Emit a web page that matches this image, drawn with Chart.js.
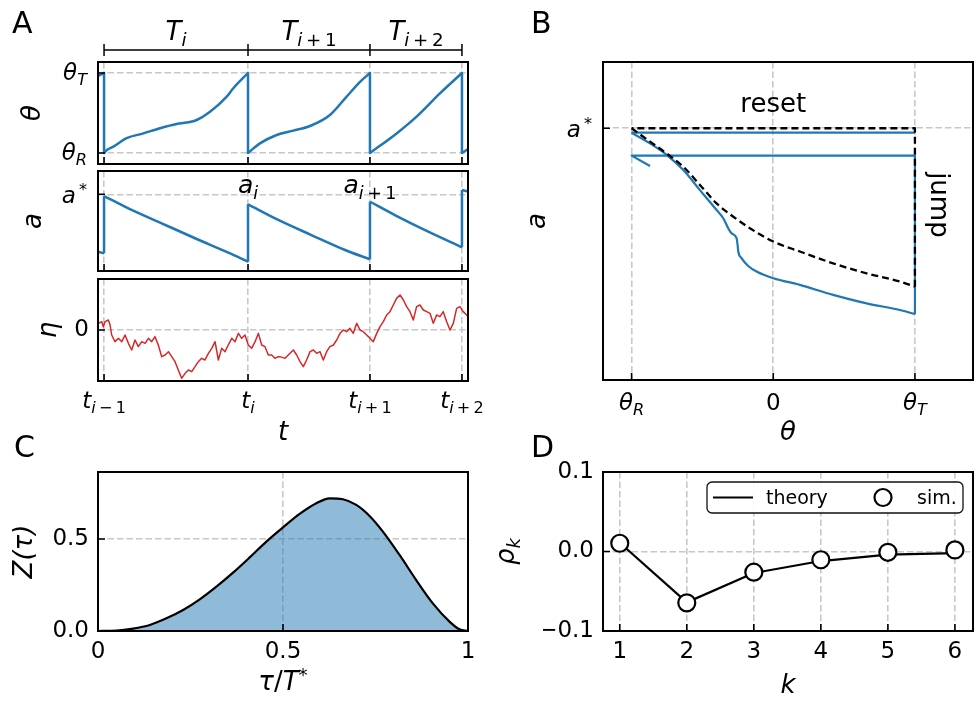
<!DOCTYPE html>
<html><head><meta charset="utf-8">
<script src="https://cdn.jsdelivr.net/npm/chart.js@4"></script>
<style>
html,body{margin:0;padding:0;background:#fff;}
#wrap{position:relative;width:979px;height:702px;overflow:hidden;background:#fff;}
canvas{position:absolute;left:0;top:0;}
</style></head><body><div id="wrap">
<canvas id="cTheta" width="979" height="702"></canvas>
<canvas id="cA" width="979" height="702"></canvas>
<canvas id="cEta" width="979" height="702"></canvas>
<canvas id="cB" width="979" height="702"></canvas>
<canvas id="cC" width="979" height="702"></canvas>
<canvas id="cD" width="979" height="702"></canvas>
</div>
<script>
// ================= DATA =================
// Panel A: time ticks (t_{i-1}, t_i, t_{i+1}, t_{i+2}) and their subscripts
const tTicks = [0, 1.0, 1.847, 2.486];
const tTickSubs = ['i-1', 'i', 'i+1', 'i+2'];
const periodSubs = ['i', 'i+1', 'i+2'];
const thetaR = -1, thetaT = 1, aStar = 1;

// Panel A, theta trajectory (one array pair per inter-spike segment)
const thT0 = [-0.042, 0];
const thV0 = [0.93, 1.0];
const thT1 = [0, 0.019, 0.065, 0.157, 0.273, 0.389, 0.505, 0.574, 0.644, 0.736, 0.852, 0.898, 1.0];
const thV1 = [-1.0, -0.925, -0.84, -0.63, -0.51, -0.38, -0.275, -0.24, -0.175, 0.03, 0.41, 0.62, 1.0];
const thT2 = [1.0, 1.083, 1.199, 1.315, 1.431, 1.569, 1.685, 1.778, 1.847];
const thV2 = [-1.0, -0.76, -0.55, -0.44, -0.325, -0.05, 0.41, 0.78, 1.0];
const thT3 = [1.847, 2.032, 2.171, 2.333, 2.486];
const thV3 = [-1.0, -0.51, -0.09, 0.49, 1.0];
const thT4 = [2.486, 2.528];
const thV4 = [-1.0, -0.9];

// Panel A, adaptation a(t)
const aT0 = [-0.042, 0];
const aV0 = [0.574, 0.562];
const aT1 = [0, 0.169, 0.40, 0.632, 0.863, 1.0];
const aV1 = [0.987, 0.896, 0.785, 0.674, 0.567, 0.50];
const aT2 = [1.0, 1.21, 1.44, 1.674, 1.847];
const aV2 = [0.926, 0.81, 0.698, 0.587, 0.518];
const aT3 = [1.847, 2.02, 2.252, 2.486];
const aV3 = [0.945, 0.846, 0.723, 0.607];
const aT4 = [2.486, 2.528];
const aV4 = [1.032, 1.02];

// Panel A, noise eta(t)
const etaT = [-0.039,-0.016,-0.005,0.007,0.030,0.042,0.053,0.076,0.100,0.123,0.146,0.169,0.192,0.215,0.238,0.262,0.285,0.308,0.331,0.354,0.377,0.400,0.424,0.447,0.470,0.493,0.516,0.539,0.563,0.586,0.609,0.632,0.655,0.678,0.701,0.725,0.748,0.771,0.794,0.817,0.840,0.863,0.887,0.910,0.933,0.956,0.979,1.002,1.025,1.049,1.072,1.095,1.118,1.141,1.164,1.187,1.211,
  1.222,1.257,1.292,1.315,1.338,1.361,1.384,1.407,1.431,1.454,1.477,1.5,1.523,1.546,1.569,1.593,1.616,1.639,1.662,1.685,1.708,1.731,1.755,1.778,1.801,1.824,1.847,1.870,1.894,1.917,1.940,1.963,1.986,2.009,2.032,2.056,2.079,2.102,2.125,2.148,2.171,2.194,2.218,2.241,2.264,2.287,2.310,2.333,2.356,2.380,2.403,2.426,2.449,2.472,2.495,2.519,2.528];
const etaV = [0.33,0.417,0.167,0.417,0.5,0.25,-0.25,-0.583,-0.417,-0.583,-0.25,-0.667,-1.0,-0.5,-0.833,-0.583,-0.667,-0.417,-0.583,-0.333,-0.75,-1.333,-1.25,-1.083,-1.333,-1.583,-2.0,-2.417,-2.167,-2.0,-2.083,-1.833,-1.583,-1.417,-1.5,-1.167,-0.917,-0.583,-1.5,-0.917,-1.083,-0.75,-0.417,-0.583,-0.167,-0.417,-0.25,-0.75,-0.917,-0.583,-0.167,-0.75,-0.833,-1.25,-1.25,-1.417,-1.333,
  -1.333,-1.417,-1.167,-1.0,-1.25,-1.583,-1.833,-1.5,-1.083,-1.0,-1.167,-1.083,-1.5,-1.083,-0.833,-0.75,-0.5,-0.167,0,-0.083,0.083,-0.167,0.333,0,-0.083,-0.25,-0.417,-0.583,-0.167,0.167,0.417,0.75,0.917,1.25,1.583,1.75,1.5,1.167,0.917,0.5,1.167,1.25,1.0,0.917,0.833,0.333,0.75,0.667,0.917,0.417,0,0.333,1.083,1.167,0.917,0.75,0.67];

// Panel B: phase plane (theta, a)
const bPreTheta = [1, -1];
const bPreA = [0.988, 0.988];
const bDescTheta = [-1, -0.870, -0.753, -0.635, -0.518, -0.400, -0.353, -0.318, -0.294, -0.259, -0.252, -0.247, -0.224, -0.177, -0.118, 0.0, 0.188, 0.423, 0.659, 0.894, 1.0];
const bDescA = [0.988, 0.959, 0.928, 0.887, 0.833, 0.779, 0.757, 0.730, 0.716, 0.703, 0.685, 0.667, 0.649, 0.628, 0.613, 0.595, 0.577, 0.550, 0.527, 0.509, 0.498];
const bPostTheta = [1, 1, -1, -0.87];
const bPostA = [0.498, 0.926, 0.926, 0.898];
const bLimTheta = [-1, -0.870, -0.753, -0.635, -0.518, -0.400, -0.282, -0.165, 0.0, 0.188, 0.423, 0.659, 0.894, 1.0];
const bLimA = [1.0, 0.964, 0.932, 0.896, 0.847, 0.797, 0.761, 0.730, 0.694, 0.667, 0.635, 0.608, 0.586, 0.572];
const bLimCloseTheta = [1, 1, -1];
const bLimCloseA = [0.572, 1.0, 1.0];

// Panel C: Z(tau)
const cTau = [0, 0.05, 0.095, 0.14, 0.185, 0.23, 0.275, 0.32, 0.365, 0.41, 0.455, 0.5, 0.545, 0.59, 0.626, 0.662, 0.698, 0.734, 0.77, 0.815, 0.86, 0.905, 0.95, 0.977, 1.0];
const cZ = [0, 0.002, 0.013, 0.033, 0.069, 0.114, 0.172, 0.241, 0.317, 0.400, 0.486, 0.563, 0.636, 0.694, 0.721, 0.716, 0.685, 0.625, 0.540, 0.413, 0.277, 0.150, 0.051, 0.009, 0];
const cXTicks = [0, 0.5, 1];
const cXLabels = ['0', '0.5', '1'];
const cYTicks = [0, 0.5];
const cYLabels = ['0.0', '0.5'];

// Panel D: serial correlations
const dK = [1, 2, 3, 4, 5, 6];
const dTheory = [0.011, -0.064, -0.027, -0.012, -0.004, -0.002];
const dSim = [0.0104, -0.0646, -0.026, -0.0104, -0.001, 0.002];
const dYTicks = [-0.1, 0, 0.1];
const dYLabels = ['\u22120.1', '0.0', '0.1'];

// ================= STYLE / HELPERS =================
const W = 979, H = 702;
const FF = '"DejaVu Sans", "Liberation Sans", sans-serif';
const BLUE = '#1f77b4', RED = '#d62728', GRID = '#c8c8c8';
const TICK_SIZE = 23, TITLE_SIZE = 26;
Chart.defaults.font.family = FF;
Chart.defaults.color = '#000';

const I = t => ({t, s: 'main', it: true});
const R = t => ({t, s: 'main', it: false});
const Si = t => ({t, s: 'sub', it: true});
const Sr = t => ({t, s: 'sub', it: false});
const Pr = t => ({t, s: 'sup', it: false});
function subParts(s) {
  const out = [];
  for (const ch of s) {
    if (ch === 'i' || ch === 'k') out.push(Si(ch));
    else if (ch === '-') out.push(Sr('\u2009\u2212\u2009'));
    else if (ch === '+') out.push(Sr('\u2009+\u2009'));
    else out.push(Sr(ch));
  }
  return out;
}
function drawMath(ctx, parts, x, y, size, align) {
  let w = 0; const items = [];
  for (const p of parts) {
    const fs = p.s === 'main' ? size : size * 0.7;
    ctx.font = (p.it ? 'italic ' : '') + fs + 'px ' + FF;
    const mw = ctx.measureText(p.t).width;
    const dy = p.s === 'sub' ? size * 0.22 : (p.s === 'sup' ? -size * 0.36 : 0);
    items.push({p, fs, x: w, dy});
    w += mw;
  }
  const x0 = align === 'center' ? x - w / 2 : (align === 'right' ? x - w : x);
  ctx.save();
  ctx.fillStyle = '#000'; ctx.textAlign = 'left'; ctx.textBaseline = 'alphabetic';
  for (const it of items) {
    ctx.font = (it.p.it ? 'italic ' : '') + it.fs + 'px ' + FF;
    ctx.fillText(it.p.t, x0 + it.x, y + it.dy);
  }
  ctx.restore();
}
function pts(xs, ys) { return xs.map((x, i) => ({x, y: ys[i]})); }
function joinJumps(segs) {
  const out = [];
  for (let k = 0; k < segs.length - 1; k++) {
    const a = segs[k][segs[k].length - 1], b = segs[k + 1][0];
    out.push({x: a.x, y: a.y}, {x: b.x, y: b.y}, {x: b.x, y: null});
  }
  return out;
}
function lineDS(data, color, width, extra) {
  return Object.assign({data, borderColor: color, backgroundColor: color, borderWidth: width,
    pointRadius: 0, fill: false, tension: 0, borderCapStyle: 'butt', borderJoinStyle: 'round'}, extra || {});
}
const frame = {
  id: 'frame',
  afterDatasetsDraw(chart) {
    const {ctx, chartArea: a} = chart; const x = chart.scales.x, y = chart.scales.y;
    ctx.save();
    ctx.strokeStyle = '#000'; ctx.lineWidth = 1.6; ctx.setLineDash([]);
    ctx.beginPath();
    for (const t of x.ticks) { const px = x.getPixelForValue(t.value); ctx.moveTo(px, a.bottom); ctx.lineTo(px, a.bottom - 7); }
    for (const t of y.ticks) { const py = y.getPixelForValue(t.value); ctx.moveTo(a.left, py); ctx.lineTo(a.left + 7, py); }
    ctx.stroke();
    ctx.lineWidth = 2;
    ctx.strokeRect(a.left, a.top, a.right - a.left, a.bottom - a.top);
    ctx.restore();
  }
};

function makeChart(id, box, o) {
  const lh = TITLE_SIZE * 1.2;
  const padL = o.yTitleX != null ? o.yTitleX - lh / 2 : box.l - (o.yW || 0);
  const yW = box.l - padL;
  const xH = o.xTitleY != null ? o.xTitleY + lh / 2 - box.b : (o.xH || 0);
  const padB = H - box.b - xH;
  const titleFont = {family: FF, size: TITLE_SIZE, style: 'italic'};
  const tickFont = {family: FF, size: TICK_SIZE};
  const grid = () => ({color: GRID, lineWidth: 1.6, drawTicks: false});
  const border = () => ({display: false, dash: [6.5, 3]});
  return new Chart(document.getElementById(id), {
    type: 'line',
    data: {datasets: o.datasets},
    options: {
      responsive: false, animation: false, devicePixelRatio: 1, events: [],
      layout: {autoPadding: false, padding: {left: padL, right: W - box.r, top: box.t, bottom: padB}},
      plugins: {legend: {display: false}, tooltip: {enabled: false}},
      elements: {point: {radius: 0}},
      scales: {
        x: {type: 'linear', position: 'bottom', min: o.xmin, max: o.xmax,
          afterBuildTicks: s => { s.ticks = o.xTicks.map(v => ({value: v})); },
          afterFit: s => { s.height = xH; },
          grid: grid(), border: border(),
          ticks: {display: !!o.xLabels, autoSkip: false, maxRotation: 0, minRotation: 0, font: tickFont, color: '#000', padding: 7,
            callback: (v, i) => (o.xLabels ? o.xLabels[i] : '')},
          title: {display: !!o.xTitle, text: o.xTitle || '', font: titleFont, color: '#000', padding: 0}},
        y: {type: 'linear', position: 'left', min: o.ymin, max: o.ymax,
          afterBuildTicks: s => { s.ticks = o.yTicks.map(v => ({value: v})); },
          afterFit: s => { s.width = yW; },
          grid: grid(), border: border(),
          ticks: {display: !!o.yLabels, autoSkip: false, font: tickFont, color: '#000', padding: 9,
            callback: (v, i) => (o.yLabels ? o.yLabels[i] : '')},
          title: {display: !!o.yTitle, text: o.yTitle || '', font: titleFont, color: '#000', padding: 0}}
      }
    },
    plugins: [frame, {id: 'deco_' + id, afterDatasetsDraw: c => { if (o.draw) o.draw(c, c.ctx); }}]
  });
}
function panelLetter(ctx, s, x, y) {
  ctx.save(); ctx.fillStyle = '#000'; ctx.font = '30px ' + FF; ctx.textAlign = 'left'; ctx.textBaseline = 'alphabetic';
  ctx.fillText(s, x, y); ctx.restore();
}

// ================= PANEL A: theta =================
const thSegs = [pts(thT0, thV0), pts(thT1, thV1), pts(thT2, thV2), pts(thT3, thV3), pts(thT4, thV4)];
makeChart('cTheta', {l: 98, t: 62, r: 468, b: 164}, {
  xmin: -0.042, xmax: 2.528, ymin: -1.275, ymax: 1.275,
  xTicks: tTicks, yTicks: [thetaR, thetaT], yTitle: '\u03b8', yTitleX: 33,
  datasets: [lineDS(joinJumps(thSegs), BLUE, 2.5)].concat(thSegs.map(s => lineDS(s, BLUE, 2.5, {cubicInterpolationMode: 'monotone'}))),
  draw: (c, ctx) => {
    const a = c.chartArea, x = c.scales.x, y = c.scales.y;
    panelLetter(ctx, 'A', 12, 33);
    drawMath(ctx, [I('\u03b8'), Si('T')], a.left - 11, y.getPixelForValue(thetaT) + 7, TICK_SIZE, 'right');
    drawMath(ctx, [I('\u03b8'), Si('R')], a.left - 11, y.getPixelForValue(thetaR) + 7, TICK_SIZE, 'right');
    const by = a.top - 12;
    const xs = tTicks.map(v => x.getPixelForValue(v));
    ctx.save(); ctx.strokeStyle = '#000'; ctx.lineWidth = 1.5; ctx.beginPath();
    ctx.moveTo(xs[0], by); ctx.lineTo(xs[xs.length - 1], by);
    xs.forEach(px => { ctx.moveTo(px, by - 6); ctx.lineTo(px, by + 6); });
    ctx.stroke(); ctx.restore();
    periodSubs.forEach((s, i) => drawMath(ctx, [I('T')].concat(subParts(s)), (xs[i] + xs[i + 1]) / 2, a.top - 22, 26, 'center'));
  }
});

// ================= PANEL A: a =================
const aSegs = [pts(aT0, aV0), pts(aT1, aV1), pts(aT2, aV2), pts(aT3, aV3), pts(aT4, aV4)];
makeChart('cA', {l: 98, t: 171, r: 468, b: 271}, {
  xmin: -0.042, xmax: 2.528, ymin: 0.431, ymax: 1.173,
  xTicks: tTicks, yTicks: [aStar], yTitle: 'a', yTitleX: 34,
  datasets: [lineDS(joinJumps(aSegs), BLUE, 2.5)].concat(aSegs.map(s => lineDS(s, BLUE, 2.5, {cubicInterpolationMode: 'monotone'}))),
  draw: (c, ctx) => {
    const a = c.chartArea, x = c.scales.x, y = c.scales.y;
    drawMath(ctx, [I('a'), Pr('\u2009*')], a.left - 11, y.getPixelForValue(aStar) + 9, TICK_SIZE, 'right');
    [1, 2].forEach(k => drawMath(ctx, [I('a')].concat(subParts(periodSubs[k - 1])), x.getPixelForValue(tTicks[k]), y.getPixelForValue(aStar) - 1, 25, 'center'));
  }
});

// ================= PANEL A: eta =================
makeChart('cEta', {l: 98, t: 279, r: 468, b: 381}, {
  xmin: -0.042, xmax: 2.528, ymin: -2.55, ymax: 2.55,
  xTicks: tTicks, yTicks: [0], yLabels: ['0'], yTitle: '\u03b7', yTitleX: 49, xTitle: 't', xTitleY: 433,
  datasets: [lineDS(pts(etaT, etaV), RED, 1.5)],
  draw: (c, ctx) => {
    const a = c.chartArea, x = c.scales.x;
    tTicks.forEach((v, i) => drawMath(ctx, [I('t')].concat(subParts(tTickSubs[i])), x.getPixelForValue(v), a.bottom + 27, TICK_SIZE, 'center'));
  }
});

// ================= PANEL B =================
makeChart('cB', {l: 603, t: 62, r: 973, b: 380}, {
  xmin: -1.202, xmax: 1.41, ymin: 0.32, ymax: 1.179,
  xTicks: [thetaR, 0, thetaT], yTicks: [aStar], yTitle: 'a', yTitleX: 538, xTitle: '\u03b8', xTitleY: 433,
  datasets: [
    lineDS(pts(bLimCloseTheta, bLimCloseA), '#000', 2.3, {borderDash: [7, 4]}),
    lineDS(pts(bLimTheta, bLimA), '#000', 2.3, {borderDash: [7, 4], cubicInterpolationMode: 'monotone'}),
    lineDS(pts(bPreTheta, bPreA), BLUE, 2.2),
    lineDS(pts(bDescTheta, bDescA), BLUE, 2.2, {cubicInterpolationMode: 'monotone'}),
    lineDS(pts(bPostTheta, bPostA), BLUE, 2.2)
  ],
  draw: (c, ctx) => {
    const a = c.chartArea, x = c.scales.x, y = c.scales.y;
    panelLetter(ctx, 'B', 531, 33);
    drawMath(ctx, [I('a'), Pr('\u2009*')], a.left - 11, y.getPixelForValue(aStar) + 9, TICK_SIZE, 'right');
    drawMath(ctx, [I('\u03b8'), Si('R')], x.getPixelForValue(thetaR), a.bottom + 30, TICK_SIZE, 'center');
    drawMath(ctx, [R('0')], x.getPixelForValue(0), a.bottom + 30, TICK_SIZE, 'center');
    drawMath(ctx, [I('\u03b8'), Si('T')], x.getPixelForValue(thetaT), a.bottom + 30, TICK_SIZE, 'center');
    ctx.save(); ctx.fillStyle = '#000'; ctx.font = '26px ' + FF; ctx.textAlign = 'center'; ctx.textBaseline = 'alphabetic';
    ctx.fillText('reset', x.getPixelForValue(0), y.getPixelForValue(1.068) + 9);
    ctx.translate(x.getPixelForValue(1.11), y.getPixelForValue(0.793));
    ctx.rotate(Math.PI / 2);
    ctx.fillText('jump', 0, 0);
    ctx.restore();
  }
});

// ================= PANEL C =================
makeChart('cC', {l: 98, t: 472, r: 468, b: 631}, {
  xmin: 0, xmax: 1, ymin: 0, ymax: 0.864,
  xTicks: cXTicks, xLabels: cXLabels, yTicks: cYTicks, yLabels: cYLabels, xH: 40,
  yTitle: 'Z(\u03c4)', yTitleX: 25,
  datasets: [lineDS(pts(cTau, cZ), '#000', 2.2, {fill: 'origin', backgroundColor: 'rgba(31,119,180,0.5)', cubicInterpolationMode: 'monotone'})],
  draw: (c, ctx) => {
    const a = c.chartArea;
    panelLetter(ctx, 'C', 14, 457);
    drawMath(ctx, [I('\u03c4'), R('/'), I('T'), Pr('*')], (a.left + a.right) / 2, 690, TITLE_SIZE, 'center');
  }
});

// ================= PANEL D =================
makeChart('cD', {l: 603, t: 472, r: 973, b: 631}, {
  xmin: 0.75, xmax: 6.27, ymin: -0.1, ymax: 0.1,
  xTicks: dK, xLabels: dK.map(String), yTicks: dYTicks, yLabels: dYLabels, yW: 60,
  xTitle: 'k', xTitleY: 686,
  datasets: [
    lineDS(pts(dK, dSim), '#000', 2, {showLine: false, pointRadius: 8.5, pointBorderWidth: 2.2, pointBackgroundColor: '#fff', pointBorderColor: '#000'}),
    lineDS(pts(dK, dTheory), '#000', 2.2)
  ],
  draw: (c, ctx) => {
    const a = c.chartArea;
    panelLetter(ctx, 'D', 531, 457);
    ctx.save(); ctx.translate(514, (a.top + a.bottom) / 2); ctx.rotate(-Math.PI / 2);
    drawMath(ctx, [I('\u03c1'), Si('k')], 0, 0, TITLE_SIZE, 'center');
    ctx.restore();
    // legend
    const lw = 256, lhh = 31, lx = a.right - 10 - lw, ly = a.top + 10;
    ctx.save();
    ctx.fillStyle = 'rgba(255,255,255,0.9)'; ctx.strokeStyle = '#111'; ctx.lineWidth = 1.3;
    ctx.beginPath(); ctx.roundRect(lx, ly, lw, lhh, 5); ctx.fill(); ctx.stroke();
    const cy = ly + lhh / 2;
    ctx.strokeStyle = '#000'; ctx.lineWidth = 2.2; ctx.beginPath(); ctx.moveTo(lx + 6, cy); ctx.lineTo(lx + 46, cy); ctx.stroke();
    ctx.fillStyle = '#000'; ctx.font = '19px ' + FF; ctx.textAlign = 'left'; ctx.textBaseline = 'alphabetic';
    ctx.fillText('theory', lx + 59, cy + 6.5);
    ctx.beginPath(); ctx.arc(lx + 176, cy, 8.5, 0, Math.PI * 2); ctx.fillStyle = '#fff'; ctx.fill(); ctx.lineWidth = 2.2; ctx.stroke();
    ctx.fillStyle = '#000'; ctx.fillText('sim.', lx + 210, cy + 6.5);
    ctx.restore();
  }
});
</script>
</body></html>
